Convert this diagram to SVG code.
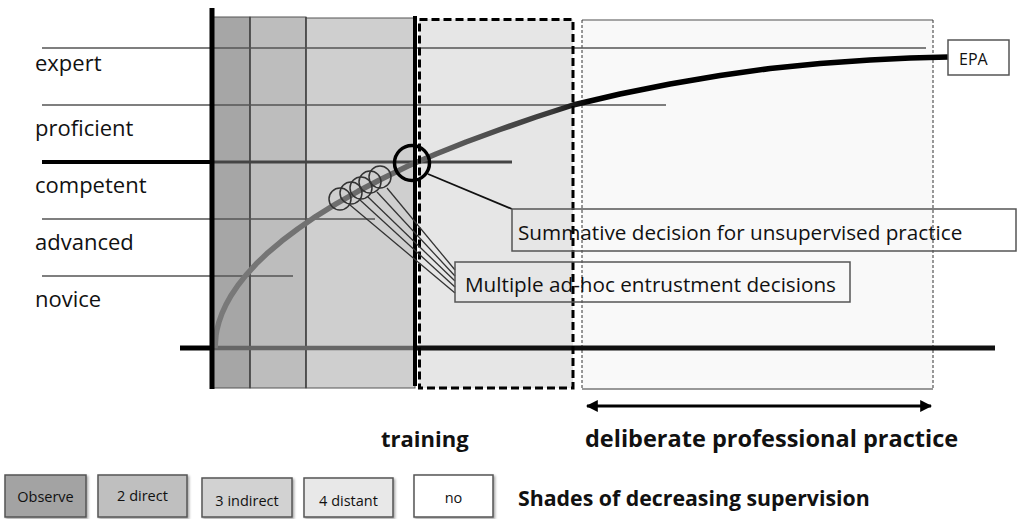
<svg xmlns="http://www.w3.org/2000/svg" width="1018" height="519" viewBox="0 0 1018 519">
<style>
text{font-family:"Open Sans","Liberation Sans",sans-serif;fill:#111}
.lvl{font-size:22px}
.lab{font-size:20.7px}
.bold{font-size:22px;font-weight:bold}
.leg{font-size:14.5px;text-anchor:middle}
.hl{stroke:#555;stroke-width:1.5;fill:none}
.div{stroke:#444;stroke-width:1.5}
.box{fill:none;stroke:#555;stroke-width:1.5}
.lbox{stroke:#555;stroke-width:1.5;filter:url(#sh)}
.conn{stroke:#333;stroke-width:1.3;fill:none}
.sc{fill:none;stroke:#333;stroke-width:1.5}
</style>
<defs>
<linearGradient id="cg" gradientUnits="userSpaceOnUse" x1="215" y1="0" x2="948" y2="0">
<stop offset="0" stop-color="#7a7a7a"/>
<stop offset="0.274" stop-color="#666"/>
<stop offset="0.46" stop-color="#3a3a3a"/>
<stop offset="0.51" stop-color="#000"/>
<stop offset="1" stop-color="#000"/>
</linearGradient>
<marker id="ah" viewBox="0 0 10 10" refX="9" refY="5" markerWidth="4" markerHeight="4" orient="auto-start-reverse" markerUnits="strokeWidth">
<path d="M0,0 L10,5 L0,10 z" fill="#000"/>
</marker>
<filter id="sh" x="-10%" y="-10%" width="130%" height="140%">
<feDropShadow dx="1.5" dy="1.5" stdDeviation="1" flood-color="#000" flood-opacity="0.35"/>
</filter>
</defs>
<rect width="1018" height="519" fill="#fff"/>

<g id="bands">
<rect id="band-observe" x="212" y="17" width="38" height="371" fill="#a6a6a6" stroke="#555" stroke-width="1"/>
<rect id="band-direct" x="250" y="17" width="56" height="371" fill="#bdbdbd" stroke="#555" stroke-width="1"/>
<rect id="band-indirect" x="306" y="18" width="109" height="370" fill="#cfcfcf" stroke="#555" stroke-width="1"/>
<line class="div" x1="250" y1="17" x2="250" y2="388"/>
<line class="div" x1="306" y1="17" x2="306" y2="388"/>
</g>

<g id="training-zone">
<rect x="419" y="19" width="154" height="369" fill="#e6e6e6"/>
</g>

<g id="practice-zone">
<rect x="582" y="20" width="351" height="369" fill="#f9f9f9"/>
<line x1="582" y1="20" x2="933" y2="20" stroke="#888" stroke-width="1.5"/>
<line x1="582" y1="389" x2="933" y2="389" stroke="#777" stroke-width="1.5"/>
<line x1="582" y1="20" x2="582" y2="389" stroke="#333" stroke-width="1" stroke-dasharray="3,2"/>
<line x1="933" y1="20" x2="933" y2="389" stroke="#333" stroke-width="1" stroke-dasharray="3,2"/>
</g>

<g id="levels">
<line class="hl" x1="42" y1="48" x2="926" y2="48"/>
<line class="hl" x1="42" y1="105" x2="666" y2="105"/>
<line x1="42" y1="162" x2="212" y2="162" stroke="#000" stroke-width="4"/>
<line x1="212" y1="162" x2="512" y2="162" stroke="#444" stroke-width="3"/>
<line class="hl" x1="42" y1="219" x2="375" y2="219"/>
<line class="hl" x1="42" y1="276" x2="293" y2="276" stroke="#666"/>
<text class="lvl" x="35" y="71">expert</text>
<text class="lvl" x="35" y="136">proficient</text>
<text class="lvl" x="35" y="193">competent</text>
<text class="lvl" x="35" y="250">advanced</text>
<text class="lvl" x="35" y="307">novice</text>
</g>

<g id="baseline">
<line x1="180" y1="348" x2="212" y2="348" stroke="#000" stroke-width="5"/>
<line x1="212" y1="348" x2="416" y2="348" stroke="#666" stroke-width="4.5"/>
<line x1="416" y1="348" x2="995" y2="348" stroke="#111" stroke-width="5"/>
</g>

<g id="curve">
<path d="M215,348 L216,335 L217,329.5 L219,321.8 L222,313.3 L226,304.6 L231,295.6 L238,285.2 L246,275.1 L256,264.1 L268,252.6 L282,240.8 L298,228.7 L316,216.3 L336,203.9 L358,191.3 L382,178.7 L408,166 L436,154 L466,142 L500,129.5 L536,117 L573,105 L620,94 L670,84 L720,75.5 L770,68.5 L820,63.5 L870,60 L910,58 L948,57" fill="none" stroke="url(#cg)" stroke-width="5.5" stroke-linejoin="round" stroke-linecap="butt"/>
</g>

<g id="axes">
<line x1="212" y1="8" x2="212" y2="389" stroke="#000" stroke-width="5"/>
<line x1="415" y1="16" x2="415" y2="386" stroke="#000" stroke-width="4"/>
<rect x="419.5" y="19.5" width="153.5" height="368.5" fill="none" stroke="#000" stroke-width="3" stroke-dasharray="8,4"/>
</g>

<g id="adhoc-circles">
<circle class="sc" cx="340" cy="199" r="11"/>
<circle class="sc" cx="351" cy="193" r="11"/>
<circle class="sc" cx="361" cy="188" r="11"/>
<circle class="sc" cx="370" cy="182" r="11"/>
<circle class="sc" cx="380" cy="177" r="11"/>
</g>

<g id="summative-circle">
<circle cx="412" cy="163" r="17.5" fill="none" stroke="#000" stroke-width="3.5"/>
</g>

<g id="connectors">
<line class="conn" x1="350" y1="205" x2="455" y2="293"/>
<line class="conn" x1="360" y1="200" x2="455" y2="287"/>
<line class="conn" x1="368" y1="197" x2="455" y2="281"/>
<line class="conn" x1="377" y1="192" x2="455" y2="276"/>
<line class="conn" x1="387" y1="188" x2="455" y2="270"/>
<line x1="428" y1="174" x2="512" y2="209" stroke="#111" stroke-width="1.8"/>
<line x1="587" y1="406" x2="931" y2="406" stroke="#000" stroke-width="3" marker-start="url(#ah)" marker-end="url(#ah)"/>
</g>

<g id="summative-box">
<rect class="box" x="512" y="209" width="504" height="42"/>
<text class="lab" x="518" y="240">Summative decision for unsupervised practice</text>
</g>

<g id="adhoc-box">
<rect class="box" x="455" y="262" width="395" height="40"/>
<text class="lab" x="465" y="292">Multiple ad-hoc entrustment decisions</text>
</g>

<g id="epa-box">
<rect x="948" y="40" width="61" height="35" fill="#fff" stroke="#555" stroke-width="1.5"/>
<text x="959" y="65" style="font-size:16px">EPA</text>
</g>

<g id="phase-labels">
<text class="bold" x="381" y="447">training</text>
<text class="bold" x="585" y="447" style="font-size:23.5px">deliberate professional practice</text>
</g>

<g id="legend">
<g id="leg-observe"><rect class="lbox" x="5" y="475" width="81" height="42" fill="#a3a3a3"/><text class="leg" x="45.5" y="502">Observe</text></g>
<g id="leg-direct"><rect class="lbox" x="98" y="475" width="89" height="42" fill="#bfbfbf"/><text class="leg" x="142.5" y="501">2 direct</text></g>
<g id="leg-indirect"><rect class="lbox" x="202" y="478" width="90" height="39" fill="#d2d2d2"/><text class="leg" x="247" y="506">3 indirect</text></g>
<g id="leg-distant"><rect class="lbox" x="304" y="478" width="89" height="39" fill="#e8e8e8"/><text class="leg" x="348.5" y="506">4 distant</text></g>
<g id="leg-no"><rect class="lbox" x="414" y="475" width="79" height="42" fill="#fff"/><text class="leg" x="453.5" y="503">no</text></g>
<text class="bold" x="518" y="506" style="font-size:21.3px">Shades of decreasing supervision</text>
</g>
</svg>
